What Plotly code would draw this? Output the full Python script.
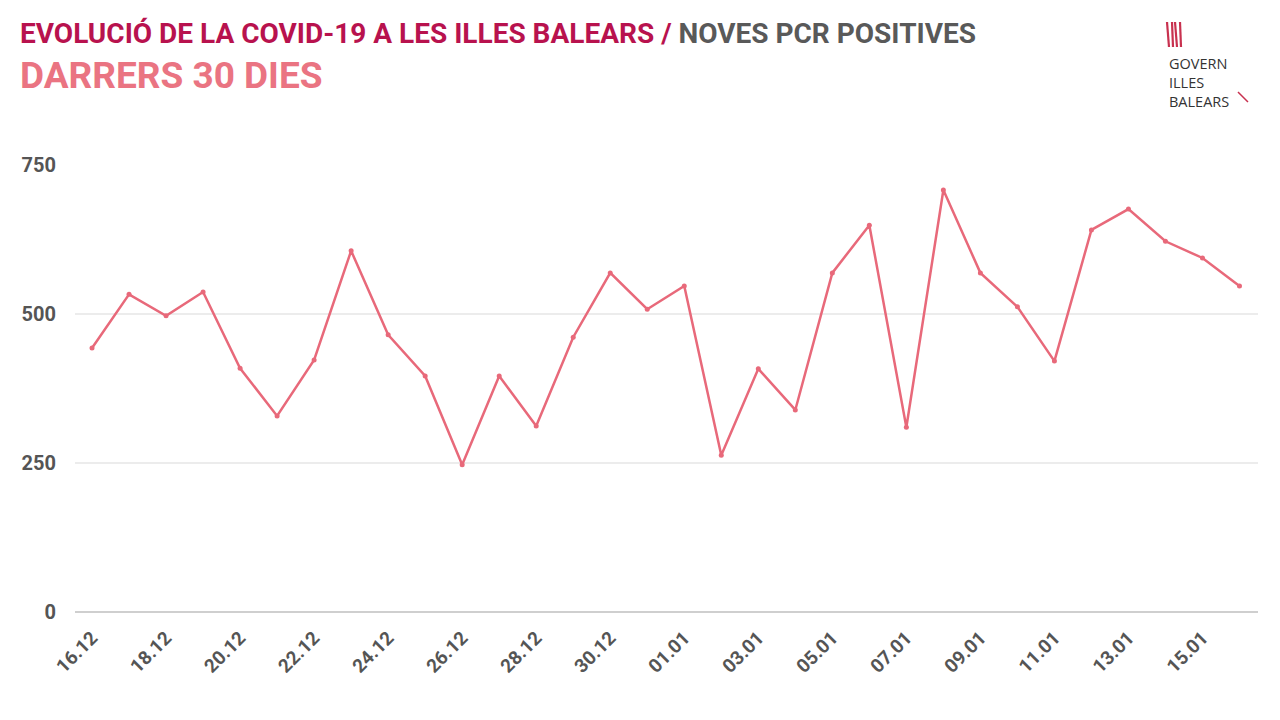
import plotly.graph_objects as go

dates = ["16.12","17.12","18.12","19.12","20.12","21.12","22.12","23.12","24.12","25.12",
         "26.12","27.12","28.12","29.12","30.12","31.12","01.01","02.01","03.01","04.01",
         "05.01","06.01","07.01","08.01","09.01","10.01","11.01","12.01","13.01","14.01",
         "15.01","16.01"]
values = [443, 533, 497, 537, 409, 329, 423, 606, 465, 396,
          247, 396, 312, 461, 569, 508, 547, 263, 408, 339,
          569, 649, 310, 708, 569, 512, 421, 641, 676, 622,
          594, 547]
y_ticks = [0, 250, 500, 750]
x_tick_labels = dates[::2]

# page offset (browser body margin)
OFF = 8
W, H = 1280, 720
ML, MR, MT, MB = 75 - OFF, 30, 165 - OFF, 116
FONT = "Roboto"
LINE = "#e8697a"

x_idx = list(range(len(dates)))

fig = go.Figure()
fig.add_trace(go.Scatter(
    x=x_idx, y=values, mode="lines+markers",
    line=dict(color=LINE, width=2.5),
    marker=dict(color=LINE, size=5),
    hoverinfo="skip", showlegend=False,
))

fig.update_layout(
    width=W, height=H,
    paper_bgcolor="white", plot_bgcolor="white",
    margin=dict(l=ML, r=MR, t=MT, b=MB, autoexpand=False),
    font=dict(family=FONT, color="#555555"),
    xaxis=dict(
        range=[-0.46, len(dates) - 0.5], automargin=False,
        tickmode="array", tickvals=x_idx[::2], ticktext=x_tick_labels,
        tickangle=-45, showgrid=False, zeroline=False, showline=False,
        ticks="", ticklabelstandoff=10,
        tickfont=dict(family=FONT, size=19, color="#555555", weight="bold"),
    ),
    yaxis=dict(
        range=[0, 750], tickmode="array", tickvals=y_ticks, automargin=False,
        showgrid=True, gridcolor="#ececec", gridwidth=1.5,
        zeroline=True, zerolinecolor="#cfcfcf", zerolinewidth=1.5,
        showline=False, ticks="", ticklabelstandoff=18,
        tickfont=dict(family=FONT, size=20, color="#555555", weight="bold"),
    ),
)

def px(x):
    return (x - OFF - ML) / (W - ML - MR)
def py(y):
    return 1 - (y - OFF - MT) / (H - MT - MB)

# Titles
fig.add_annotation(
    xref="paper", yref="paper", x=px(18), y=py(33),
    xanchor="left", yanchor="middle", showarrow=False,
    text="<span style='color:#b8124e'>EVOLUCIÓ DE LA COVID-19 A LES ILLES BALEARS /</span>"
         " <span style='color:#595959'>NOVES PCR POSITIVES</span>",
    font=dict(family=FONT, size=28, weight="bold"),
)
fig.add_annotation(
    xref="paper", yref="paper", x=px(18), y=py(75),
    xanchor="left", yanchor="middle", showarrow=False,
    text="DARRERS 30 DIES",
    font=dict(family=FONT, size=37, weight="bold", color="#ea7482"),
)

# Logo (decorative)
for i, x0 in enumerate([1167, 1171, 1175, 1179]):
    fig.add_shape(type="line", xref="paper", yref="paper",
                  x0=px(x0 + (1 if i % 2 else 0)), y0=py(22), x1=px(x0 + 2), y1=py(47),
                  line=dict(color="#c8314f", width=2.2))
fig.add_annotation(
    xref="paper", yref="paper", x=px(1167), y=py(82), xanchor="left", yanchor="middle",
    showarrow=False, align="left", text="GOVERN<br>ILLES<br>BALEARS",
    font=dict(family="Open Sans", size=14.5, color="#333333"),
)
fig.add_shape(type="line", xref="paper", yref="paper",
              x0=px(1238), y0=py(92), x1=px(1248), y1=py(102),
              line=dict(color="#c8314f", width=1.5))

fig.write_html("out.html")
